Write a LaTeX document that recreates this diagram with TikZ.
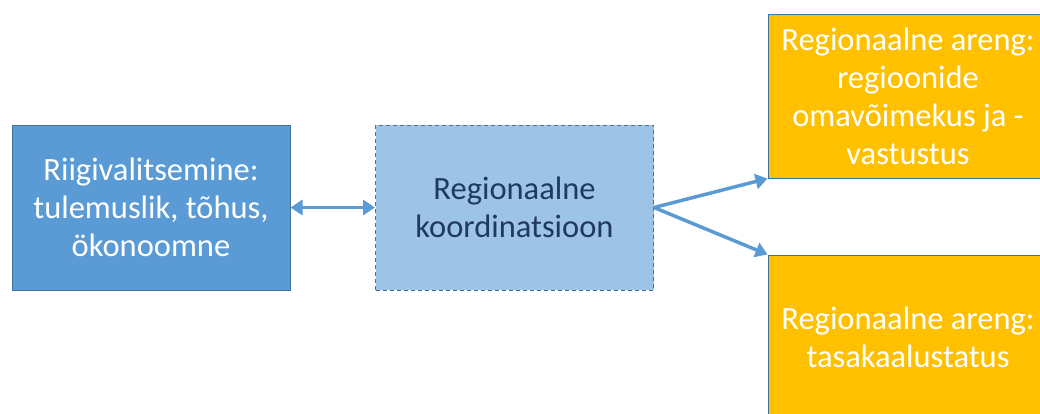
\documentclass[tikz,border=0pt]{standalone}
\usepackage{fontspec}
\setmainfont{Carlito}
\usetikzlibrary{arrows.meta}
\definecolor{blueA}{HTML}{5B9BD5}
\definecolor{blueB}{HTML}{9DC3E6}
\definecolor{edgeC}{HTML}{41719C}
\definecolor{orangeA}{HTML}{FFC000}
\definecolor{navy}{HTML}{1F3864}
\tikzset{
  box/.style={draw=edgeC, line width=1pt, minimum width=278pt, minimum height=165pt, inner sep=0pt, align=center, font=\fontsize{32.5}{38}\selectfont},
  bluebox/.style={box, fill=blueA, text=white},
  midbox/.style={box, fill=blueB, text=navy, dashed, dash pattern=on 4pt off 3pt},
  orbox/.style={box, fill=orangeA, text=white, minimum width=280pt, minimum height=164pt},
  conn/.style={draw=blueA, line width=3.5pt, -{Triangle[length=12pt,width=15pt]}},
  conn2/.style={draw=blueA, line width=3.5pt, {Triangle[length=12pt,width=15pt]}-{Triangle[length=12pt,width=15pt]}}
}
\begin{document}
\begin{tikzpicture}[x=1pt,y=-1pt]
\useasboundingbox (0,0) rectangle (1040,413);
\clip (0,0) rectangle (1040,413);
\node[bluebox] (gov) at (151,207.5) {Riigivalitsemine:\\tulemuslik, tõhus,\\ökonoomne};
\node[midbox] (coord) at (514.5,207.5) {Regionaalne\\koordinatsioon};
\node[orbox] (dev1) at (908,96) {Regionaalne areng:\\regioonide\\omavõimekus ja -\\vastustus};
\node[orbox] (dev2) at (908,337) {Regionaalne areng:\\tasakaalustatus};
\draw[conn2] (gov.east) -- (coord.west);
\coordinate (fork) at (coord.east);
\draw[conn] (fork) -- (dev1.south west);
\draw[conn] (fork) -- (dev2.north west);
\end{tikzpicture}
\end{document}
